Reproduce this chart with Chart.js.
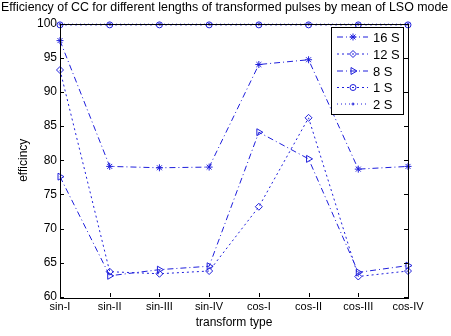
<!DOCTYPE html>
<html><head><meta charset="utf-8">
<script src="https://cdn.jsdelivr.net/npm/chart.js@4/dist/chart.umd.min.js"></script>
<style>html,body{margin:0;padding:0;background:#fff}#wrap{width:451px;height:336px}</style>
</head><body><div id="wrap"><canvas id="c" width="451" height="336"></canvas></div>
<script>
const categories = ['sin-I','sin-II','sin-III','sin-IV','cos-I','cos-II','cos-III','cos-IV'];
const s16 = [97.5, 79.1, 78.9, 79.0, 94.0, 94.7, 78.7, 79.1];
const s12 = [93.2, 63.7, 63.4, 63.8, 73.2, 86.2, 63.0, 63.8];
const s8  = [77.6, 63.1, 64.0, 64.5, 84.1, 80.2, 63.6, 64.6];
const s1  = [99.8, 99.8, 99.8, 99.8, 99.8, 99.8, 99.8, 99.8];
const s2  = [99.9, 99.9, 99.9, 99.9, 99.9, 99.9, 99.9, 99.9];
const yTicks = [60,65,70,75,80,85,90,95,100];
const seriesNames = ['16 S','12 S','8 S','1 S','2 S'];

const BLUE = '#1f1fdc';
const FONT = '"Liberation Sans", Arial, sans-serif';
const styles = [
  {dash:[6,3,1,3], pt:'star', r:3.5, rot:0},
  {dash:[2,3], pt:'rectRot', r:3.5, rot:0},
  {dash:[6,3,1,3], pt:'triangle', r:4, rot:90},
  {dash:[2,3], pt:'circle', r:3, rot:0},
  {dash:[1,3], pt:'circle', r:1, rot:0}
];
const seriesData = [s16, s12, s8, s1, s2];

const datasets = seriesData.map((d,i)=>({
  label: seriesNames[i], data: d,
  borderColor: BLUE, backgroundColor: 'rgba(0,0,0,0)', pointBorderColor: BLUE,
  pointBackgroundColor: 'rgba(0,0,0,0)', borderWidth: 1, borderDash: styles[i].dash,
  pointStyle: styles[i].pt, pointRadius: styles[i].r, pointRotation: styles[i].rot,
  pointBorderWidth: 1, tension: 0, clip: false
}));

const deco = {
  id: 'deco',
  afterDraw(chart) {
    const ctx = chart.ctx, a = chart.chartArea;
    const x = chart.scales.x, y = chart.scales.y;
    ctx.save();
    // title
    ctx.fillStyle = '#000'; ctx.font = '12.4px ' + FONT; ctx.textBaseline = 'middle'; ctx.textAlign = 'left';
    ctx.fillText('Efficiency of CC for different lengths of transformed pulses by mean of LSO mode', 1, 8);
    // box
    ctx.strokeStyle = '#000'; ctx.lineWidth = 1; ctx.setLineDash([]);
    ctx.strokeRect(Math.round(a.left)+0.5, Math.round(a.top)+0.5, Math.round(a.right-a.left), Math.round(a.bottom-a.top));
    // ticks inside
    ctx.beginPath();
    yTicks.forEach(v=>{ const py = Math.round(y.getPixelForValue(v))+0.5;
      ctx.moveTo(a.left, py); ctx.lineTo(a.left+4, py);
      ctx.moveTo(a.right, py); ctx.lineTo(a.right-4, py); });
    categories.forEach((c,i)=>{ const px = Math.round(x.getPixelForValue(i))+0.5;
      ctx.moveTo(px, a.bottom); ctx.lineTo(px, a.bottom-4); });
    ctx.stroke();
    // axis titles
    ctx.fillStyle = '#000'; ctx.font = '12px ' + FONT; ctx.textAlign = 'center';
    ctx.fillText('transform type', (a.left+a.right)/2, 323);
    ctx.save(); ctx.translate(24, (a.top+a.bottom)/2); ctx.rotate(-Math.PI/2);
    ctx.fillText('efficincy', 0, 0); ctx.restore();
    // legend
    const lx = 331, ly = 27, lw = 72, lh = 87;
    ctx.fillStyle = '#fff'; ctx.fillRect(lx, ly, lw, lh);
    ctx.strokeStyle = '#000'; ctx.strokeRect(lx+0.5, ly+0.5, lw, lh);
    const rows = [37, 54, 71, 87.5, 104];
    seriesNames.forEach((n,i)=>{
      const ry = rows[i];
      ctx.strokeStyle = BLUE; ctx.lineWidth = 1; ctx.setLineDash(styles[i].dash);
      ctx.beginPath(); ctx.moveTo(337, ry); ctx.lineTo(368, ry); ctx.stroke();
      ctx.setLineDash([]);
      ctx.fillStyle = 'rgba(0,0,0,0)'; ctx.strokeStyle = BLUE;
      Chart.helpers.drawPoint(ctx, {pointStyle: styles[i].pt, radius: styles[i].r, rotation: styles[i].rot, borderWidth: 1}, 353, ry);
      ctx.fillStyle = '#000'; ctx.font = '13px ' + FONT; ctx.textAlign = 'left'; ctx.textBaseline = 'middle';
      ctx.fillText(n, 373, ry+1);
    });
    ctx.restore();
  }
};

new Chart(document.getElementById('c'), {
  type: 'line',
  data: { labels: categories, datasets },
  options: {
    responsive: false, animation: false, devicePixelRatio: 1,
    layout: { padding: { top: 23.5, right: 43, left: 0, bottom: 0 } },
    plugins: { legend: { display: false }, tooltip: { enabled: false }, title: { display: false } },
    scales: {
      x: { type: 'category', offset: false,
        grid: { display: false, drawTicks: false }, border: { display: false },
        ticks: { color: '#000', font: { family: FONT, size: 11 }, padding: 3, maxRotation: 0, autoSkip: false },
        afterFit: s => { s.height = 39; } },
      y: { min: 60, max: 100,
        grid: { display: false, drawTicks: false }, border: { display: false },
        ticks: { color: '#000', font: { family: FONT, size: 12 }, padding: 3, stepSize: 5 },
        afterFit: s => { s.width = 60; } }
    }
  },
  plugins: [deco]
});
</script></body></html>
